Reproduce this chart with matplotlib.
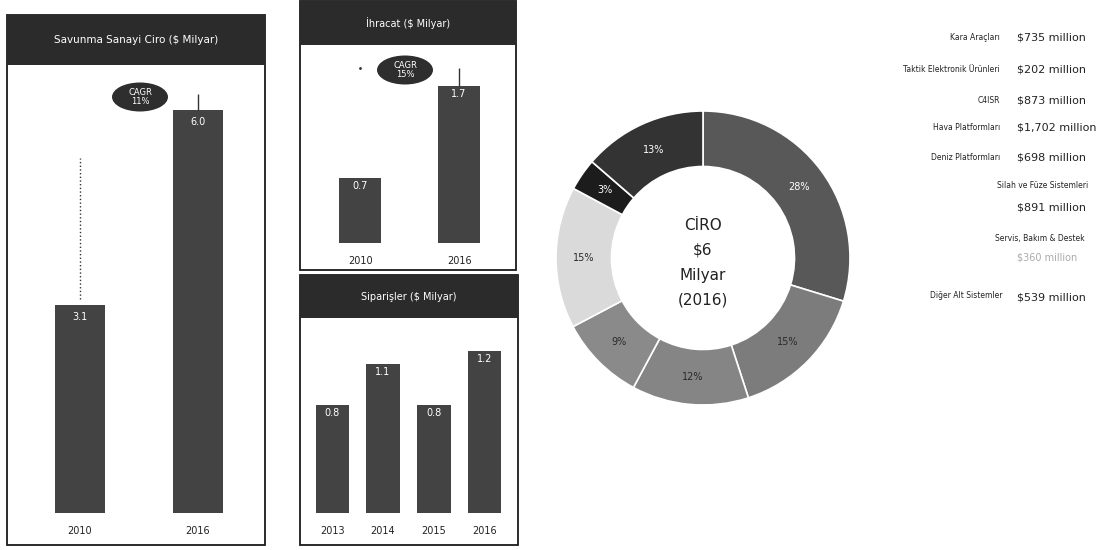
import matplotlib
matplotlib.use('Agg')
import matplotlib.pyplot as plt
from matplotlib.patches import Rectangle, Ellipse

W, H = 1103, 550

# veriler
ciro_years = ['2010', '2016']
ciro_values = [3.1, 6.0]
ciro_cagr = '11%'

ihracat_years = ['2010', '2016']
ihracat_values = [0.7, 1.7]
ihracat_cagr = '15%'

siparis_years = ['2013', '2014', '2015', '2016']
siparis_values = [0.8, 1.1, 0.8, 1.2]

toplam_ciro = 6000  # $ million
donut_values = [1702, 873, 735, 539, 891, 202, 780]
donut_colors = ['#585858', '#7c7c7c', '#858585', '#8a8a8a', '#dadada', '#1c1c1c', '#333333']

sektor_names = ['Kara Araçları', 'Taktik Elektronik Ürünleri', 'C4ISR',
                'Hava Platformları', 'Deniz Platformları',
                'Silah ve Füze Sistemleri', 'Servis, Bakım & Destek',
                'Diğer Alt Sistemler']
sektor_values = [735, 202, 873, 1702, 698, 891, 360, 539]

BAR = '#434343'
TITLE = '#2b2b2b'


def frame(x0, y0, x1, y1):
    return [x0 / W, 1 - y1 / H, (x1 - x0) / W, (y1 - y0) / H]


def fxy(x, y):
    return x / W, 1 - y / H


fig = plt.figure(figsize=(W / 100, H / 100), dpi=100)


def panel(box, title_bottom, plot_box, title, years, values, xlim, ytop, bar_w, fs_title):
    x0, y0, x1, y1 = box
    fig.patches.append(Rectangle(fxy(x0, y1), (x1 - x0) / W, (y1 - y0) / H,
                                 transform=fig.transFigure, fill=False,
                                 ec='#1a1a1a', lw=1.3))
    fig.patches.append(Rectangle(fxy(x0, title_bottom), (x1 - x0) / W,
                                 (title_bottom - y0) / H, transform=fig.transFigure,
                                 color=TITLE, lw=0))
    tx, ty = fxy((x0 + x1) / 2, (y0 + title_bottom) / 2)
    fig.text(tx, ty, title, color='white', fontsize=fs_title, ha='center', va='center')

    ax = fig.add_axes(frame(*plot_box))
    pos = list(range(len(values)))
    ax.bar(pos, values, width=bar_w, color=BAR)
    for i, v in zip(pos, values):
        ax.text(i, v - ytop * 0.015, f'{v:.1f}', color='white', fontsize=7,
                ha='center', va='top')
    ax.set_xlim(*xlim)
    ax.set_ylim(0, ytop)
    ax.set_xticks(pos, years)
    ax.set_yticks([])
    ax.tick_params(axis='x', length=0, pad=9, labelsize=7, labelcolor='#222222')
    for s in ax.spines.values():
        s.set_visible(False)
    ax.patch.set_alpha(0)
    return ax


def cagr_bubble(cx, cy, text):
    fig.patches.append(Ellipse(fxy(cx, cy), 56 / W, 29 / H,
                               transform=fig.transFigure, color='#2e2e2e', lw=0))
    x, y = fxy(cx, cy)
    fig.text(x, y, 'CAGR\n' + text, color='white', fontsize=6, ha='center',
             va='center', linespacing=1.0)


# sol panel - ciro
ax1 = panel((7, 15, 265, 545), 65, (7, 65, 265, 513),
            'Savunma Sanayi Ciro ($ Milyar)', ciro_years, ciro_values,
            (-0.62, 1.57), 6.67, 0.42, 7.5)
ax1.vlines(0, ciro_values[0] * 1.03, ciro_values[-1] * 0.88, colors='#333333',
           linestyles=':', lw=1)
ax1.vlines(1, ciro_values[-1] * 1.0, ciro_values[-1] * 1.04, colors='#333333', lw=1)
cagr_bubble(140, 97, ciro_cagr)

# orta üst - ihracat
ax2 = panel((300, 1, 516, 270), 45, (300, 45, 516, 243),
            'İhracat ($ Milyar)', ihracat_years, ihracat_values,
            (-0.607, 1.575), 2.14, 0.43, 7)
lvl = ihracat_values[-1] * 1.11
ax2.vlines(1, ihracat_values[-1], lvl, colors='#333333', lw=1)
ax2.plot(0, lvl, marker='.', ms=2, color='#333333')
cagr_bubble(405, 70, ihracat_cagr)

# orta alt - siparişler
ax3 = panel((300, 275, 518, 545), 318, (300, 318, 518, 513),
            'Siparişler ($ Milyar)', siparis_years, siparis_values,
            (-0.63, 3.65), 1.444, 0.65, 7)

# donut
axd = fig.add_axes(frame(553, 108, 853, 408))
s = sum(donut_values)
wedges, texts, autotexts = axd.pie(
    donut_values, colors=donut_colors, startangle=90, counterclock=False,
    radius=0.98, pctdistance=0.81,
    autopct=lambda p: f'{round(p * s / toplam_ciro):.0f}%',
    wedgeprops=dict(width=0.37, edgecolor='white', linewidth=1.2),
    textprops=dict(fontsize=7))
for t, c in zip(autotexts, donut_colors):
    t.set_color('white' if c in ('#585858', '#1c1c1c', '#333333') else '#2a2a2a')
axd.set_xlim(-1, 1)
axd.set_ylim(-1, 1)
axd.set_aspect('equal')
center_lines = ['CİRO', f'\\${toplam_ciro / 1000:.0f}', 'Milyar', '(2016)']
for i, line in enumerate(center_lines):
    axd.text(0, 0.22 - i * 0.167, line, ha='center', va='center', fontsize=11,
             color='#222222')

# sağ liste
label_pos = [(1000, 37), (1000, 70), (1000, 100), (1000, 128), (1000, 157),
             (1088, 185), (1085, 238), (1002, 295)]
value_y = [37, 70, 100, 128, 157, 207, 258, 297]
for i, (name, val) in enumerate(zip(sektor_names, sektor_values)):
    lx, ly = label_pos[i]
    fig.text(*fxy(lx, ly), name, ha='right', va='center', fontsize=5.5,
             color='#222222')
    faint = i == 6
    fig.text(*fxy(1017, value_y[i]), f'\\${val:,} million', ha='left', va='center',
             fontsize=7 if faint else 8,
             color='#aaaaaa' if faint else '#222222')

fig.savefig('out.png', dpi=100)
